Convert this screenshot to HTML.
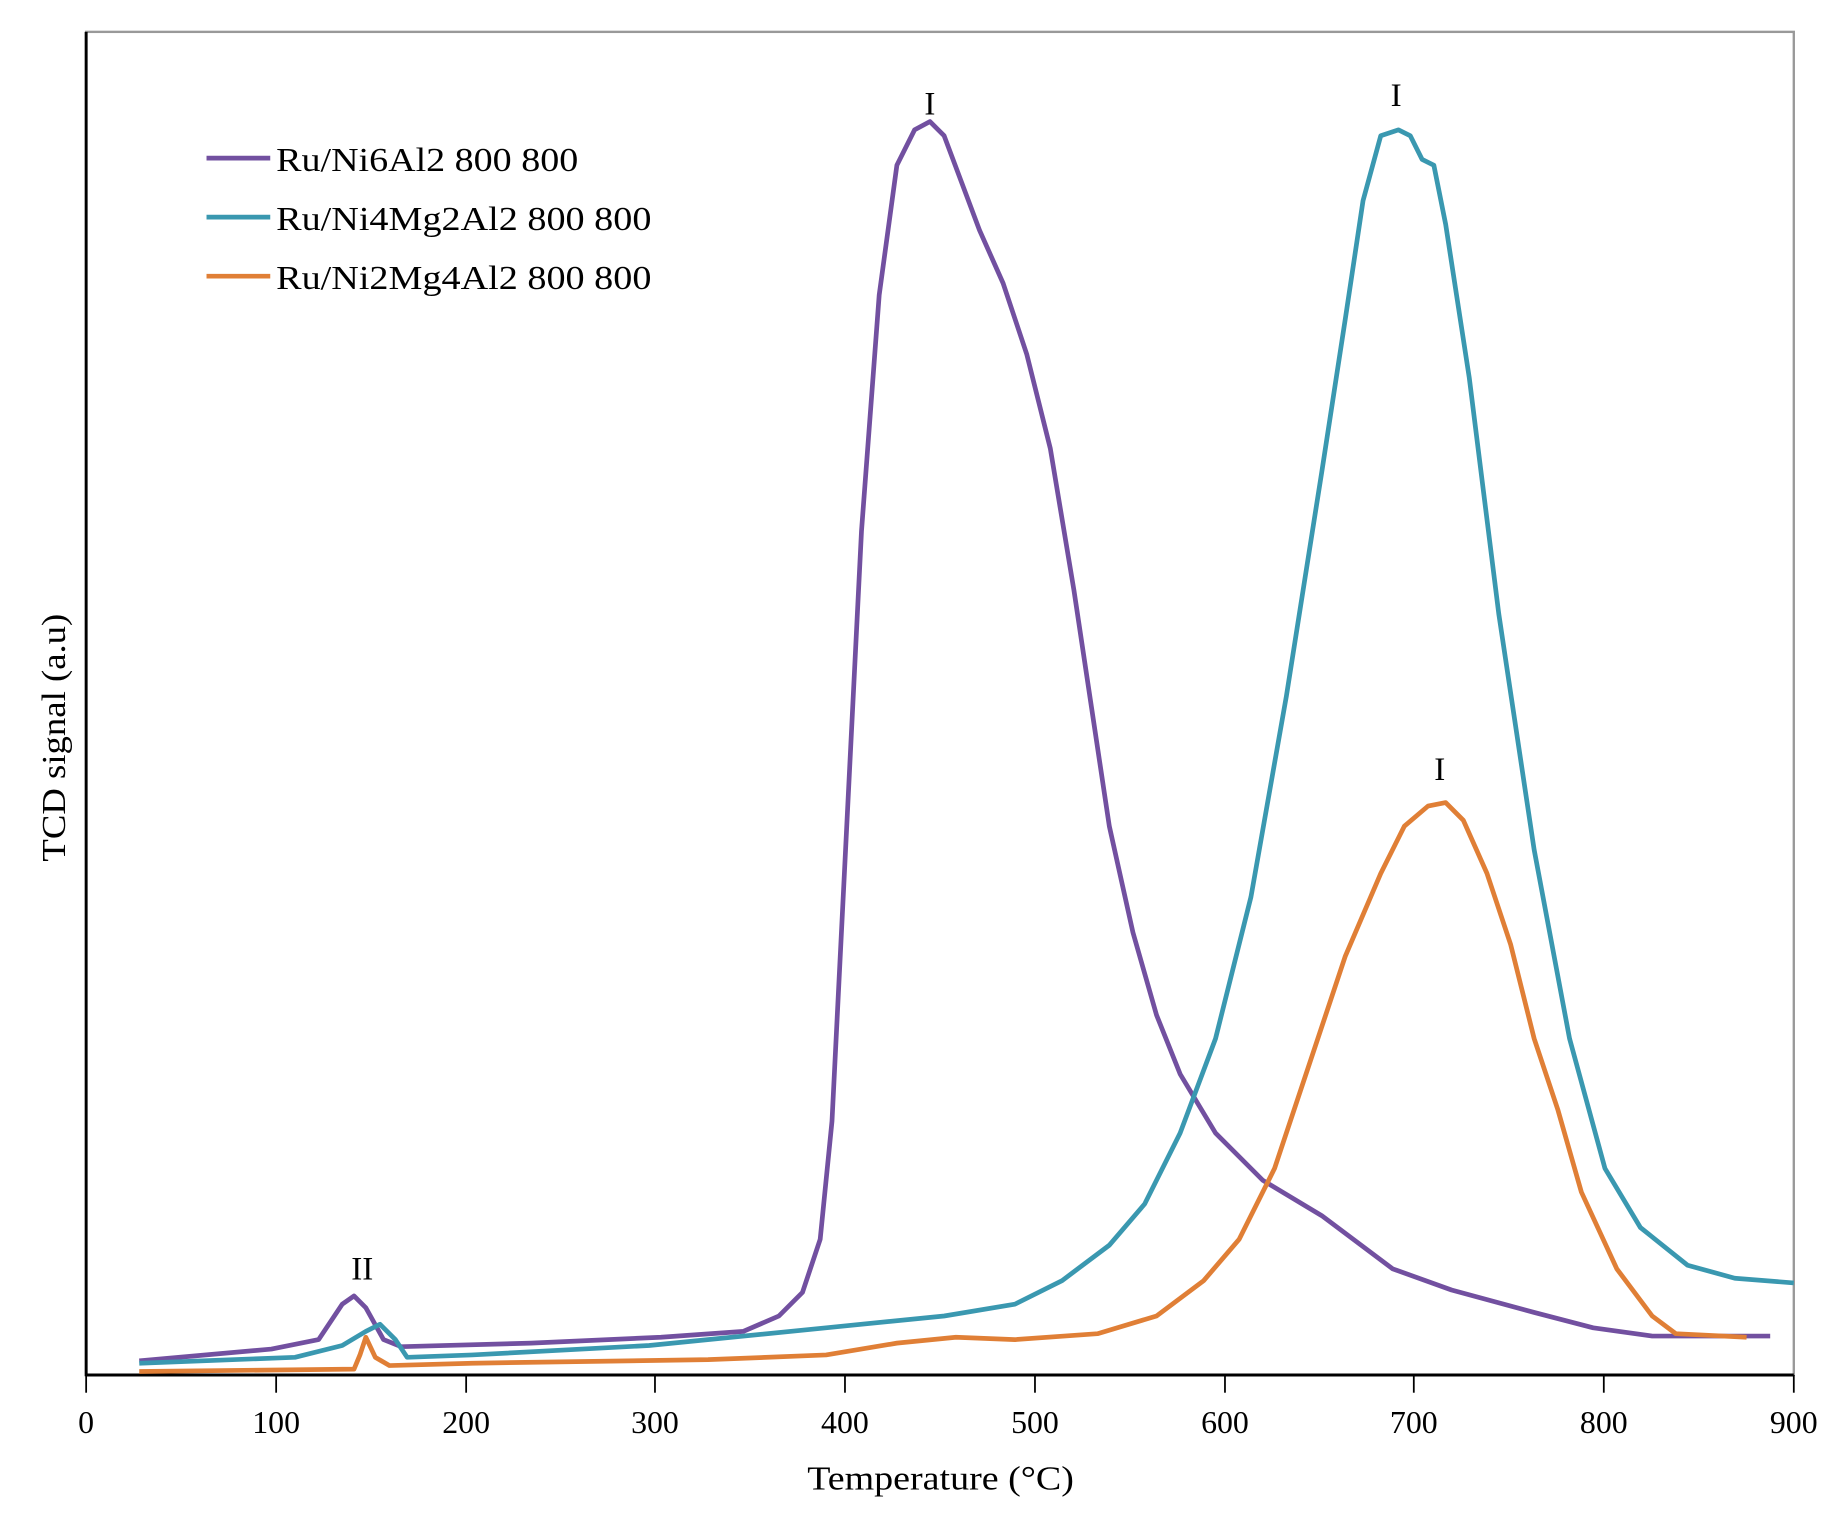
<!DOCTYPE html>
<html><head><meta charset="utf-8"><style>html,body{margin:0;padding:0;background:#fff}svg{display:block}</style></head>
<body>
<svg width="1841" height="1519" viewBox="0 0 1560 1287" preserveAspectRatio="none" xmlns="http://www.w3.org/2000/svg" font-family="Liberation Serif, serif" fill="#000">
<rect width="1560" height="1287" fill="#fff"/>
<rect x="73" y="27" width="1447" height="1138" fill="none" stroke="#999" stroke-width="2"/>
<line x1="73" y1="27" x2="73" y2="1166" stroke="#000" stroke-width="2.5"/>
<line x1="73" y1="1165" x2="1520" y2="1165" stroke="#000" stroke-width="2.5"/>
<g stroke="#000" stroke-width="1.5">
<line x1="73" y1="1165" x2="73" y2="1180"/><line x1="234" y1="1165" x2="234" y2="1180"/><line x1="395" y1="1165" x2="395" y2="1180"/><line x1="555" y1="1165" x2="555" y2="1180"/><line x1="716" y1="1165" x2="716" y2="1180"/><line x1="877" y1="1165" x2="877" y2="1180"/><line x1="1038" y1="1165" x2="1038" y2="1180"/><line x1="1198" y1="1165" x2="1198" y2="1180"/><line x1="1359" y1="1165" x2="1359" y2="1180"/><line x1="1520" y1="1165" x2="1520" y2="1180"/>
</g>
<g font-size="27" text-anchor="middle">
<text x="73" y="1214">0</text><text x="234" y="1214">100</text><text x="395" y="1214">200</text><text x="555" y="1214">300</text><text x="716" y="1214">400</text><text x="877" y="1214">500</text><text x="1038" y="1214">600</text><text x="1198" y="1214">700</text><text x="1359" y="1214">800</text><text x="1520" y="1214">900</text>
<text x="797" y="1262" font-size="29" textLength="226" lengthAdjust="spacingAndGlyphs">Temperature (°C)</text>
<text transform="translate(55,625) rotate(-90)" font-size="29" textLength="210" lengthAdjust="spacingAndGlyphs">TCD signal (a.u)</text>
<text x="788" y="97" font-size="28">I</text><text x="1183" y="90" font-size="28">I</text><text x="1220" y="661" font-size="28">I</text><text x="307" y="1084" font-size="28">II</text>
</g>
<g fill="none" stroke-width="4" stroke-linejoin="round">
<polyline stroke="#7250a0" points="118,1153 230,1143 270,1135 290,1105 300,1098 310,1108 325,1135 340,1141 450,1138 560,1133 630,1128 660,1115 680,1095 695,1050 705,950 715,750 730,450 745,250 760,140 775,110 788,103 800,115 815,155 830,195 850,240 870,300 890,380 910,500 925,600 940,700 960,790 980,860 1000,910 1030,960 1070,1000 1120,1030 1180,1075 1230,1093 1300,1112 1350,1125 1400,1132 1500,1132"/>
<polyline stroke="#3a98b0" points="118,1155 250,1150 290,1140 310,1128 322,1122 335,1135 345,1150 400,1148 550,1140 700,1125 800,1115 860,1105 900,1085 940,1055 970,1020 1000,960 1030,880 1060,760 1090,590 1120,400 1140,270 1155,170 1170,115 1185,110 1195,115 1205,135 1215,140 1225,190 1245,320 1270,520 1300,720 1330,880 1360,990 1390,1040 1430,1072 1470,1083 1520,1087"/>
<polyline stroke="#e07f36" points="118,1162 300,1160 305,1148 310,1133 318,1150 330,1157 400,1155 600,1152 700,1148 760,1138 810,1133 860,1135 930,1130 980,1115 1020,1085 1050,1050 1080,990 1110,900 1140,810 1170,740 1190,700 1210,683 1225,680 1240,695 1260,740 1280,800 1300,880 1320,940 1340,1010 1370,1075 1400,1115 1420,1130 1480,1133"/>
<line x1="175" y1="134" x2="229" y2="134" stroke="#7250a0"/>
<line x1="175" y1="184" x2="229" y2="184" stroke="#3a98b0"/>
<line x1="175" y1="234" x2="229" y2="234" stroke="#e07f36"/>
</g>
<g font-size="29">
<text x="234" y="145" textLength="256" lengthAdjust="spacingAndGlyphs">Ru/Ni6Al2 800 800</text>
<text x="234" y="195" textLength="318" lengthAdjust="spacingAndGlyphs">Ru/Ni4Mg2Al2 800 800</text>
<text x="234" y="245" textLength="318" lengthAdjust="spacingAndGlyphs">Ru/Ni2Mg4Al2 800 800</text>
</g>
</svg>
</body></html>
